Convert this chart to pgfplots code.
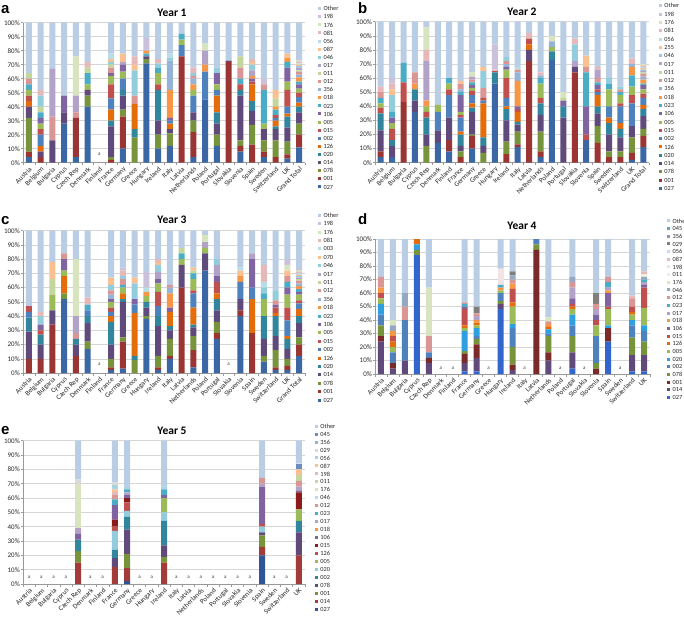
\documentclass[border=0pt]{standalone}
\usepackage{pgfplots}
\usepackage{pgfplotstable}
\pgfplotsset{compat=1.18}
\usepackage{fontspec}
\setmainfont{Carlito}
\newfontfamily\arialf{Liberation Sans}

\definecolor{A1}{HTML}{3B67A4}\definecolor{A2}{HTML}{9B3533}\definecolor{A3}{HTML}{77933C}
\definecolor{A4}{HTML}{604A7B}\definecolor{A5}{HTML}{31859C}\definecolor{A6}{HTML}{E46C0A}
\definecolor{A7}{HTML}{4F81BD}\definecolor{A8}{HTML}{C0504D}\definecolor{A9}{HTML}{9BBB59}
\definecolor{A10}{HTML}{8064A2}\definecolor{A11}{HTML}{4BACC6}\definecolor{A12}{HTML}{F79646}
\definecolor{A13}{HTML}{95B3D7}\definecolor{A14}{HTML}{D99694}\definecolor{A15}{HTML}{C3D69B}
\definecolor{A16}{HTML}{B3A2C7}\definecolor{A17}{HTML}{93CDDD}\definecolor{A18}{HTML}{FAC090}
\definecolor{A19}{HTML}{B7DEE8}\definecolor{A20}{HTML}{E6B9B8}\definecolor{A21}{HTML}{D7E4BD}
\definecolor{A22}{HTML}{CCC1DA}\definecolor{A23}{HTML}{B9CDE5}

\definecolor{D1}{HTML}{3366CC}\definecolor{D2}{HTML}{604A7B}\definecolor{D3}{HTML}{7B2A2A}
\definecolor{D4}{HTML}{77933C}\definecolor{D5}{HTML}{4F81BD}\definecolor{D6}{HTML}{2E9FE0}
\definecolor{D7}{HTML}{9BBB59}\definecolor{D8}{HTML}{E46C0A}\definecolor{D9}{HTML}{C0504D}
\definecolor{D10}{HTML}{8064A2}\definecolor{D11}{HTML}{F79646}\definecolor{D12}{HTML}{B3A2C7}
\definecolor{D13}{HTML}{4BACC6}\definecolor{D14}{HTML}{D99694}\definecolor{D15}{HTML}{93A9C3}
\definecolor{D16}{HTML}{D7E4BD}\definecolor{D17}{HTML}{EBF1DE}\definecolor{D18}{HTML}{F2E4E4}
\definecolor{D19}{HTML}{E6B9B8}\definecolor{D20}{HTML}{C6D9F1}\definecolor{D21}{HTML}{7F7F7F}
\definecolor{D22}{HTML}{A08CB8}\definecolor{D23}{HTML}{5FA5C0}\definecolor{D24}{HTML}{B9CDE5}

\definecolor{E1}{HTML}{2F5597}\definecolor{E2}{HTML}{A33B38}\definecolor{E3}{HTML}{77933C}
\definecolor{E4}{HTML}{604A7B}\definecolor{E5}{HTML}{31859C}\definecolor{E6}{HTML}{93CDDD}
\definecolor{E7}{HTML}{9BBB59}\definecolor{E8}{HTML}{C0504D}\definecolor{E9}{HTML}{8B1A1A}
\definecolor{E10}{HTML}{8064A2}\definecolor{E11}{HTML}{F79646}\definecolor{E12}{HTML}{B3A2C7}
\definecolor{E13}{HTML}{4BACC6}\definecolor{E14}{HTML}{D99694}\definecolor{E15}{HTML}{B7DEE8}
\definecolor{E16}{HTML}{D7E4BD}\definecolor{E17}{HTML}{C3D69B}\definecolor{E18}{HTML}{E6B9B8}
\definecolor{E19}{HTML}{FAC090}\definecolor{E20}{HTML}{A5D5E2}\definecolor{E21}{HTML}{D9D9D9}
\definecolor{E22}{HTML}{95B3D7}\definecolor{E23}{HTML}{6C8EBF}\definecolor{E24}{HTML}{B9CDE5}

% Year 1
\pgfplotstableread{
x c1 c2 c3 c4 c5 c6 c7 c8 c9 c10 c11 c12 c13 c14 c15 c16 c17 c18 c19 c20 c21 c22 c23
0 4 4 24 8 0 4 0 4 4 0 4 0 0 4 4 0 0 0 0 0 0 0 36
1 0 4 0 4 0 4 8 4 4 4 4 0 0 0 4 0 8 0 0 4 0 0 48
2 0 0 0 16 0 0 0 0 0 0 0 0 0 17 0 34 0 0 0 0 0 0 33
3 28 0 0 8 0 0 0 0 0 12 0 0 0 0 0 0 0 0 0 0 0 0 52
4 4 28 0 0 0 0 0 0 0 0 0 0 0 4 0 12 0 0 0 0 28 0 24
5 40 0 8 4 0 0 0 0 4 0 8 0 0 0 4 0 0 0 0 4 0 0 28
7 0 2 2 22 4 8 8 10 6 2 0 0 0 4 2 0 2 2 4 0 0 0 22
8 10 23 5 10 4 0 8 0 5 5 0 0 0 0 0 2 0 6 0 0 0 0 22
9 0 0 18 0 6 18 0 0 0 0 0 0 0 6 0 0 18 4 0 6 0 0 24
10 71 0 3 2 0 0 0 0 0 0 2 2 0 0 0 0 0 0 0 0 0 9 11
11 10 0 10 10 22 0 0 4 8 0 4 0 0 0 0 0 3 0 0 3 0 0 26
12 12 0 9 3 0 4 2 0 0 2 0 20 21 0 0 0 2 0 3 0 0 0 22
13 0 76 0 0 0 0 8 0 4 0 4 0 0 0 0 0 0 0 0 0 0 0 8
14 4 18 8 6 0 0 12 0 4 0 0 4 4 2 0 0 2 0 0 4 0 0 32
15 45 0 0 0 0 0 20 0 0 0 0 5 0 0 0 10 0 0 0 0 5 0 15
16 12 0 8 8 8 12 4 0 4 8 0 0 0 0 0 0 4 0 0 0 0 0 32
17 0 72 0 1 0 0 0 0 0 0 0 0 0 0 0 0 0 0 0 0 0 0 27
18 8 4 4 32 4 0 0 4 0 0 4 0 0 8 8 0 0 0 0 0 0 0 24
19 0 13 14 10 7 12 0 2 0 2 0 2 0 0 0 4 4 2 0 2 0 0 26
20 4 4 8 8 0 0 0 0 4 0 24 0 0 4 0 0 0 0 0 0 0 4 40
21 0 4 12 8 2 4 2 2 0 0 4 2 0 0 6 0 0 6 0 0 0 0 48
22 3 3 9 10 8 2 5 12 6 10 4 3 0 0 0 0 0 3 0 0 0 0 22
23 11 9 8 8 4 3 4 3 3 3 2 3 2 2 1 2 1 1 1 1 1 0 27
}\tabA

% Year 2
\pgfplotstableread{
x c1 c2 c3 c4 c5 c6 c7 c8 c9 c10 c11 c12 c13 c14 c15 c16 c17 c18 c19 c20 c21 c22 c23
0 4 4 0 15 12 0 0 4 3 0 4 0 0 4 0 0 0 0 0 4 0 0 46
1 4 0 0 8 4 0 0 8 4 4 4 0 0 0 0 0 12 4 0 4 0 4 40
2 0 43 0 0 0 0 0 14 0 0 14 0 0 0 0 0 0 0 0 0 0 0 29
3 36 0 0 8 8 0 0 0 0 0 0 4 0 8 0 0 0 0 0 0 0 0 36
4 0 0 12 8 12 0 0 4 4 0 0 4 0 0 0 28 0 0 0 8 16 0 4
5 14 0 0 9 0 0 13 0 5 0 0 0 0 0 0 0 0 0 0 0 0 0 59
6 8 8 0 16 0 0 16 4 4 0 4 0 0 0 0 0 0 0 0 0 0 0 40
7 0 4 4 4 8 2 10 2 2 12 2 0 2 4 0 0 0 2 0 0 0 0 42
8 10 9 1 16 3 3 6 3 2 2 2 0 0 2 0 2 0 0 0 0 3 0 36
9 0 0 7 5 6 24 2 2 0 0 0 0 0 7 0 0 12 3 0 0 0 0 32
10 56 0 0 0 8 0 0 1 0 0 0 0 0 0 0 0 0 0 0 1 0 18 16
11 0 6 9 15 8 2 6 14 6 2 0 0 2 2 0 0 3 0 0 0 0 0 25
12 11 2 9 5 2 7 0 2 0 2 0 18 6 2 0 0 0 0 2 0 0 0 32
13 0 72 0 8 0 4 0 4 0 0 0 0 0 0 0 0 0 0 0 4 0 0 8
14 4 4 14 12 8 0 0 4 10 0 4 0 2 0 0 0 0 0 0 2 0 0 36
15 73 0 0 0 6 0 0 0 3 0 0 0 4 0 0 0 0 0 0 0 4 0 10
16 0 0 0 32 8 0 0 0 0 4 0 0 0 0 2 0 0 0 0 0 4 0 50
17 0 64 0 4 0 0 0 0 0 0 0 0 0 0 0 4 12 0 0 4 0 0 12
18 16 0 0 0 0 0 0 4 0 20 24 0 0 4 0 0 0 8 0 0 0 0 24
19 0 14 12 9 5 8 2 2 0 3 2 0 0 3 0 6 0 0 0 2 0 0 32
20 0 4 4 12 8 4 8 0 12 0 4 0 0 0 0 0 4 0 0 0 0 0 40
21 0 4 4 10 6 4 12 2 6 0 2 0 0 2 0 0 2 0 0 0 0 0 46
22 2 5 11 8 0 0 16 6 6 0 8 6 2 0 0 0 0 0 0 4 0 0 26
23 11 8 5 9 5 3 5 3 3 3 1 3 2 2 1 1 1 1 1 1 1 0 30
}\tabB

% Year 3
\pgfplotstableread{
x c1 c2 c3 c4 c5 c6 c7 c8 c9 c10 c11 c12 c13 c14 c15 c16 c17 c18 c19 c20 c21 c22 c23
0 0 10 0 19 10 0 4 4 0 0 0 0 0 0 0 0 0 0 0 0 0 0 53
1 0 10 0 10 7 0 0 3 0 4 0 0 0 0 0 0 6 0 0 3 0 0 57
2 0 34 0 10 0 0 0 0 11 0 0 0 0 0 11 0 0 12 0 0 0 0 22
3 52 0 4 0 0 12 0 0 4 8 0 0 0 4 0 0 0 0 0 0 0 0 16
4 0 12 0 8 4 0 0 0 0 0 0 0 0 4 0 12 0 0 0 0 40 0 20
5 17 0 5 13 5 0 4 0 0 0 4 0 0 0 0 0 0 0 0 5 0 0 47
7 2 2 6 10 16 4 3 3 4 2 0 0 3 3 0 0 4 5 0 0 0 0 33
8 3 19 3 25 2 4 0 0 4 0 2 0 0 4 0 0 2 0 0 4 0 2 26
9 0 0 9 0 3 30 6 0 0 4 0 0 0 0 0 0 11 4 0 0 0 0 33
10 38 0 2 6 4 0 0 0 4 0 0 3 0 0 0 0 0 0 3 0 0 11 29
11 2 2 8 21 7 0 7 10 6 3 0 0 0 0 0 5 5 2 0 2 0 0 20
12 10 2 12 6 3 10 0 0 0 3 0 10 4 2 0 0 0 0 0 0 0 0 38
13 0 60 0 16 0 0 0 0 4 0 4 0 0 0 4 0 0 0 0 0 0 0 12
14 4 12 10 6 2 12 10 2 8 0 4 0 0 0 2 0 0 2 0 0 0 0 26
15 72 0 0 12 0 0 0 0 4 0 0 0 0 0 0 4 0 0 0 0 5 0 3
16 24 4 8 8 8 4 0 8 0 4 0 0 0 0 0 8 4 0 0 0 0 0 20
18 40 4 0 8 0 0 12 0 0 0 0 4 0 0 0 0 0 4 2 0 0 0 26
19 0 28 0 0 0 24 8 0 0 20 0 0 0 0 0 4 0 0 0 0 0 0 16
20 8 0 4 12 16 0 0 0 12 0 4 0 0 0 0 0 4 0 4 12 0 0 24
21 2 2 12 10 14 2 0 4 0 2 0 0 0 3 0 0 7 0 0 0 0 0 42
22 2 3 5 7 7 2 11 9 9 5 4 0 0 4 0 0 0 4 0 0 4 4 20
23 12 8 5 10 5 5 4 2 4 2 2 2 2 2 1 1 1 1 1 1 1 1 27
}\tabC

% Year 4
\pgfplotstableread{
x c1 c2 c3 c4 c5 c6 c7 c8 c9 c10 c11 c12 c13 c14 c15 c16 c17 c18 c19 c20 c21 c22 c23 c24
0 0 24 4 8 8 8 4 0 4 0 4 0 0 8 0 0 0 0 0 0 0 0 0 28
1 0 4 4 0 8 0 4 4 4 0 4 0 0 0 4 4 0 0 0 0 0 0 0 60
2 0 10 0 0 30 0 0 0 0 0 0 0 0 10 10 0 0 0 0 0 0 0 0 40
3 88 0 0 4 0 4 0 4 0 0 0 0 0 0 0 0 0 0 0 0 0 0 0 0
4 0 8 4 0 4 0 0 0 0 0 0 0 0 12 0 36 0 0 0 0 0 0 0 36
7 2 6 7 2 0 15 2 2 12 2 0 0 2 1 0 0 0 0 0 0 0 0 0 47
8 2 10 10 4 2 6 2 2 0 0 2 3 0 2 0 0 0 0 0 0 5 0 0 50
10 48 4 0 2 6 0 2 0 0 0 2 0 2 0 0 0 0 12 0 0 0 0 0 22
11 0 3 4 13 14 3 13 3 10 0 4 0 0 3 3 0 0 0 0 0 3 0 0 24
13 0 0 92 4 4 0 0 0 0 0 0 0 0 0 0 0 0 0 0 0 0 0 0 0
14 0 10 6 12 2 3 0 2 0 0 2 0 0 2 0 3 0 0 0 0 0 0 0 58
16 4 12 0 12 8 8 4 2 2 4 0 8 0 4 4 0 0 0 0 0 0 0 0 28
18 0 0 4 4 20 0 8 0 4 4 0 4 0 4 0 0 0 0 0 0 8 0 0 40
19 24 0 10 0 0 2 12 0 2 10 2 2 4 4 0 0 0 0 0 0 0 0 0 28
21 2 12 0 13 9 4 4 2 4 0 0 0 0 6 0 0 0 0 2 0 0 0 0 42
22 2 12 0 10 8 4 13 0 15 2 0 2 2 0 2 0 2 0 2 0 0 0 0 24
}\tabD

% Year 5
\pgfplotstableread{
x c1 c2 c3 c4 c5 c6 c7 c8 c9 c10 c11 c12 c13 c14 c15 c16 c17 c18 c19 c20 c21 c22 c23 c24
4 0 15 8 0 8 0 0 0 0 4 0 4 0 0 0 31 0 0 0 0 3 0 0 27
7 0 12 0 6 6 13 0 3 5 10 0 0 4 3 0 0 0 2 2 3 2 0 0 29
8 2 9 10 17 9 4 0 6 3 2 0 2 2 0 0 0 0 0 0 1 0 0 0 33
11 0 15 4 8 17 6 10 0 0 2 0 0 4 0 0 0 0 0 0 2 0 0 0 32
19 20 6 8 2 0 4 0 2 0 26 0 2 0 4 0 0 0 0 0 0 0 0 0 26
22 0 20 0 16 8 0 8 0 12 1 0 3 0 4 0 0 4 0 4 0 0 0 4 16
}\tabE

\pgfplotsset{
  sqleg/.style={legend image code/.code={\fill[##1] (0pt,-1.5pt) rectangle (3pt,1.5pt);}},
  panel/.style={
    ybar stacked, bar width=6pt, scale only axis, anchor=south west,
    ymin=0, ymax=100, ytick={0,10,...,100},
    yticklabel={\pgfmathprintnumber[assume math mode=true]{\tick}\%},
    ymajorgrids, grid style={draw=black!16, line width=0.5pt},
    axis x line*=bottom, axis y line*=left,
    axis line style={draw=black!40, line width=0.5pt},
    tick align=outside, major tick length=2pt, minor tick length=2.5pt,
    tick style={draw=black!40, line width=0.5pt},
    major x tick style={draw=none},
    tick label style={font=\fontsize{7}{8}\selectfont, text=black!85},
    yticklabel style={inner sep=1pt},
    xticklabel style={rotate=45, anchor=north east, inner sep=1pt},
    enlargelimits=false,
    legend cell align=left, reverse legend,
    legend style={draw=none, fill=none, anchor=north west, inner sep=0pt,
      font=\fontsize{6.3}{7}\selectfont, text=black!85,
      nodes={inner sep=0.4pt, text height=4.3pt, text depth=0pt},
      /tikz/every odd column/.append style={column sep=2pt}},
  },
  p24/.style={xmin=-0.5, xmax=23.5, xtick={0,...,23}, minor xtick={-0.5,0.5,...,23.5},
    xticklabels={Austria,Belgium,Bulgaria,Cyprus,Czech Rep,Denmark,Finland,France,Germany,Greece,Hungary,Ireland,Italy,Latvia,Netherlands,Poland,Portugal,Slovakia,Slovenia,Spain,Sweden,Switzerland,UK,Grand Total}},
  p23/.style={xmin=-0.5, xmax=22.5, xtick={0,...,22}, minor xtick={-0.5,0.5,...,22.5},
    xticklabels={Austria,Belgium,Bulgaria,Cyprus,Czech Rep,Denmark,Finland,France,Germany,Greece,Hungary,Ireland,Italy,Latvia,Netherlands,Poland,Portugal,Slovakia,Slovenia,Spain,Sweden,Switzerland,UK}},
}
\newcommand{\amark}[1]{\node[font=\fontsize{5}{5}\selectfont, text=black!80, inner sep=0pt] at (axis cs:#1) {a};}

\begin{document}
\begin{tikzpicture}
\path[use as bounding box] (0pt,0pt) rectangle (684pt,-618pt);

% ---- a ----
\begin{axis}[panel, p24, at={(23pt,-162.7pt)}, width=282pt, height=140pt,
  legend style={at={(1.046,1.12)}, row sep=3.0pt}]
\pgfplotsinvokeforeach{1,...,23}{\addplot[fill=A#1, draw=none, sqleg] table[x=x, y=c#1]{\tabA};}
\legend{027,001,078,014,020,126,002,015,005,106,023,018,356,012,011,017,046,087,056,081,176,198,Other}
\amark{6,6}
\end{axis}

% ---- b ----
\begin{axis}[panel, p24, at={(375pt,-162.7pt)}, width=274pt, height=141pt,
  legend style={at={(1.036,1.132)}, row sep=3.2pt}]
\pgfplotsinvokeforeach{1,...,23}{\addplot[fill=A#1, draw=none, sqleg] table[x=x, y=c#1]{\tabB};}
\legend{027,001,078,014,020,126,002,015,005,106,023,018,356,012,011,017,046,255,056,081,176,198,Other}
\end{axis}

% ---- c ----
\begin{axis}[panel, p24, at={(23pt,-373pt)}, width=282pt, height=142.3pt,
  legend style={at={(1.046,1.128)}, row sep=3.3pt}]
\pgfplotsinvokeforeach{1,...,23}{\addplot[fill=A#1, draw=none, sqleg] table[x=x, y=c#1]{\tabC};}
\legend{027,001,078,014,020,126,002,015,005,106,023,018,356,012,011,017,046,070,003,081,176,198,Other}
\amark{6,6}\amark{17,6}
\end{axis}

% ---- d ----
\begin{axis}[panel, p23, at={(375pt,-374pt)}, width=275pt, height=135pt,
  legend style={at={(1.062,1.154)}, row sep=2.57pt}]
\pgfplotsinvokeforeach{1,...,24}{\addplot[fill=D#1, draw=none, sqleg] table[x=x, y=c#1]{\tabD};}
\legend{027,014,001,078,002,020,005,126,015,106,018,017,023,012,046,176,011,198,087,056,029,356,045,Other}
\pgfplotsinvokeforeach{5,6,9,12,15,17,20}{\amark{#1,4.5}}
\end{axis}

% ---- e ----
\begin{axis}[panel, p23, at={(23pt,-584pt)}, width=282pt, height=143.3pt,
  legend style={at={(1.035,1.121)}, row sep=2.86pt}]
\pgfplotsinvokeforeach{1,...,24}{\addplot[fill=E#1, draw=none, sqleg] table[x=x, y=c#1]{\tabE};}
\legend{027,014,001,078,002,020,005,126,015,106,018,017,023,012,046,176,011,198,087,056,029,356,045,Other}
\pgfplotsinvokeforeach{0,1,2,3,5,6,9,10,12,13,14,15,16,17,18,20,21}{\amark{#1,5}}
\end{axis}

% titles
\node[font=\bfseries\fontsize{11.5}{12}\selectfont] at (172pt,-13pt) {Year 1};
\node[font=\bfseries\fontsize{11.5}{12}\selectfont] at (522pt,-12pt) {Year 2};
\node[font=\bfseries\fontsize{11.5}{12}\selectfont] at (172pt,-220pt) {Year 3};
\node[font=\bfseries\fontsize{11.5}{12}\selectfont] at (522pt,-226pt) {Year 4};
\node[font=\bfseries\fontsize{11.5}{12}\selectfont] at (172pt,-431pt) {Year 5};
% panel letters
\node[font=\arialf\bfseries\fontsize{15}{15}\selectfont, anchor=base west, inner sep=0pt] at (1pt,-13.5pt) {a};
\node[font=\arialf\bfseries\fontsize{15}{15}\selectfont, anchor=base west, inner sep=0pt] at (358pt,-14pt) {b};
\node[font=\arialf\bfseries\fontsize{15}{15}\selectfont, anchor=base west, inner sep=0pt] at (1pt,-224pt) {c};
\node[font=\arialf\bfseries\fontsize{15}{15}\selectfont, anchor=base west, inner sep=0pt] at (358pt,-224pt) {d};
\node[font=\arialf\bfseries\fontsize{15}{15}\selectfont, anchor=base west, inner sep=0pt] at (1pt,-434pt) {e};
\end{tikzpicture}
\end{document}
